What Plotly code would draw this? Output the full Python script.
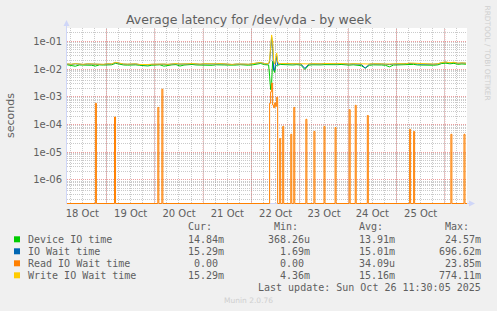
import pandas as pd
import plotly.graph_objects as go

# ---------------- data ----------------
X_START = "2025-10-18 04:24"
X_END = "2025-10-26 11:00"

day_label_times = ["2025-10-18 12:00", "2025-10-19 12:00", "2025-10-20 12:00", "2025-10-21 12:00",
                   "2025-10-22 12:00", "2025-10-23 12:00", "2025-10-24 12:00", "2025-10-25 12:00"]
day_labels = ["18 Oct", "19 Oct", "20 Oct", "21 Oct", "22 Oct", "23 Oct", "24 Oct", "25 Oct"]
midnights = ["2025-10-19", "2025-10-20", "2025-10-21", "2025-10-22",
             "2025-10-23", "2025-10-24", "2025-10-25", "2025-10-26"]

y_tick_vals = [1e-6, 1e-5, 1e-4, 1e-3, 1e-2, 1e-1]
y_tick_text = ["1e-06", "1e-05", "1e-04", "1e-03", "1e-02", "1e-01"]

# sample times: 2h steps, 30min detail around the 22 Oct burst, 2h steps
t1 = list(pd.date_range("2025-10-18 04:30", periods=50, freq="2h"))
t2 = list(pd.date_range("2025-10-22 08:30", periods=11, freq="30min"))
t3 = list(pd.date_range("2025-10-22 14:30", periods=47, freq="2h"))

# values in milliseconds
write_ms1 = [15.3, 14.9, 15.6, 15.1, 14.8, 15.4, 15.2, 15.7, 15.0, 14.8,
             15.5, 15.3, 17.4, 15.8, 15.2, 15.0, 15.6, 15.4, 14.6, 14.3,
             14.5, 14.9, 15.2, 15.6, 15.1, 14.8, 15.3, 15.7, 15.2, 14.9,
             15.4, 15.8, 15.3, 15.0, 15.5, 15.2, 14.9, 15.4, 15.7, 15.3,
             15.0, 14.7, 15.2, 15.6, 15.1, 14.9, 15.4, 15.8, 17.2, 15.6]
write_ms2 = [15.6, 22.0, 60.0, 170.0, 95.0, 20.0, 15.0, 26.0, 38.0, 19.0, 15.5]
write_ms3 = [15.8, 15.6, 15.9, 15.4, 15.7, 15.5, 14.8, 15.3, 15.6, 15.2,
             15.4, 15.8, 15.5, 15.1, 15.6, 15.9, 15.4, 15.2, 15.6, 15.3,
             15.0, 14.6, 15.2, 15.5, 15.8, 15.4, 15.1, 14.8, 15.3, 15.6,
             15.2, 15.5, 16.4, 16.1, 15.4, 15.2, 15.6, 15.3, 15.1, 15.5,
             17.2, 17.8, 16.9, 17.5, 16.2, 16.6, 16.3]

iowait_ms1 = [15.1, 14.7, 15.4, 14.9, 14.6, 15.2, 15.0, 15.5, 14.8, 14.6,
              15.3, 15.1, 17.1, 15.6, 15.0, 14.8, 15.4, 15.2, 14.4, 14.1,
              14.3, 14.7, 15.0, 15.4, 14.9, 14.6, 15.1, 15.5, 15.0, 14.7,
              15.2, 15.6, 15.1, 14.8, 15.3, 15.0, 14.7, 15.2, 15.5, 15.1,
              14.8, 14.5, 15.0, 15.4, 14.9, 14.7, 15.2, 15.6, 17.0, 15.4]
iowait_ms2 = [15.4, 18.0, 48.0, 140.0, 55.0, 9.0, 9.2, 20.0, 30.0, 14.0, 15.2]
iowait_ms3 = [15.6, 15.4, 15.7, 15.2, 15.5, 15.3, 10.5, 15.1, 15.4, 15.0,
              15.2, 15.6, 15.3, 14.9, 15.4, 15.7, 15.2, 15.0, 15.4, 15.1,
              14.8, 10.7, 15.0, 15.3, 15.6, 15.2, 14.9, 14.5, 15.1, 15.4,
              15.0, 15.3, 16.2, 15.9, 15.2, 15.0, 15.4, 15.1, 14.9, 15.3,
              17.0, 17.6, 16.7, 17.3, 16.0, 16.4, 16.1]

device_ms1 = [14.2, 13.8, 12.6, 14.0, 13.9, 14.3, 13.7, 12.8, 14.1, 13.9,
              14.4, 14.2, 16.0, 14.5, 14.0, 13.8, 14.3, 14.1, 13.6, 13.2,
              12.9, 13.7, 14.0, 14.2, 12.7, 13.8, 14.1, 14.4, 12.8, 13.9,
              14.3, 14.6, 14.0, 13.8, 14.2, 13.9, 13.6, 14.2, 14.5, 14.0,
              13.8, 13.5, 13.9, 14.3, 13.9, 13.7, 14.1, 14.6, 15.8, 14.4]
device_ms2 = [14.0, 5.5, 1.8, 3.2, 19.0, 11.0, 7.5, 12.5, 13.5, 13.0, 14.1]
device_ms3 = [14.6, 14.2, 14.5, 14.0, 14.4, 13.9, 9.6, 13.8, 14.2, 13.9,
              14.1, 14.4, 14.2, 13.7, 14.3, 14.6, 14.0, 13.8, 14.2, 13.9,
              13.2, 10.8, 13.6, 14.1, 14.4, 14.0, 13.6, 12.0, 13.9, 14.2,
              13.8, 14.1, 15.0, 14.7, 14.0, 13.8, 14.2, 13.9, 13.7, 14.1,
              15.8, 16.2, 15.4, 16.0, 14.8, 15.2, 14.9]

# read IO wait: zero except at these 30-minute samples
read_times = ["2025-10-18 18:30", "2025-10-19 04:00", "2025-10-20 01:30", "2025-10-20 03:30",
              "2025-10-22 09:00", "2025-10-22 09:30", "2025-10-22 10:00", "2025-10-22 10:30",
              "2025-10-22 11:00", "2025-10-22 11:30", "2025-10-22 12:00", "2025-10-22 12:30",
              "2025-10-22 14:00", "2025-10-22 15:30", "2025-10-22 19:30", "2025-10-22 21:00",
              "2025-10-23 03:00", "2025-10-23 07:00", "2025-10-23 12:00", "2025-10-23 17:30",
              "2025-10-24 00:30", "2025-10-24 03:30", "2025-10-24 09:30", "2025-10-25 06:30",
              "2025-10-25 08:30", "2025-10-26 03:00", "2025-10-26 09:30"]
read_ms = [0.58, 0.185, 0.41, 1.87,
           0.58, 1.5, 3.1, 0.5,
           0.4, 0.6, 0.45, 0.96,
           0.031, 0.085, 0.044, 0.41,
           0.153, 0.056, 0.085, 0.077,
           0.34, 0.49, 0.21, 0.066,
           0.056, 0.044, 0.044]

series_names = ["Device IO time", "IO Wait time", "Read IO Wait time", "Write IO Wait time"]
series_colors = ["#00CC00", "#0066B3", "#FF8000", "#FFCC00"]
legend_cur = ["14.84m", "15.29m", "0.00\u00a0", "15.29m"]
legend_min = ["368.26u", "1.69m", "0.00\u00a0", "4.36m"]
legend_avg = ["13.91m", "15.01m", "34.09u", "15.16m"]
legend_max = ["24.57m", "696.62m", "23.85m", "774.11m"]

TITLE = "Average latency for /dev/vda - by week"
Y_TITLE = "seconds"
LAST_UPDATE = "Last update: Sun Oct 26 11:30:05 2025"
MUNIN = "Munin 2.0.76"
WATERMARK = "RRDTOOL / TOBI OETIKER"

# ---------------- layout constants ----------------
W, H = 497, 311
ML, MR, MT, MB = 67, 30, 28, 107
PW, PH = W - ML - MR, H - MT - MB
Y_LO, Y_HI = -6.876, -0.5186   # log10 range
SANS = "DejaVu Sans"
MONO = "DejaVu Sans Mono"
FONT_C = "#5f5f5f"
AXIS_C = "#CFD6F8"
GRID_C = "rgba(150,150,150,0.5)"
MGRID_C = "rgba(222,79,79,0.55)"


def px(x):
    return (x - ML) / PW


def py(y):
    return (MT + PH - y) / PH


def ms(vals):
    return [v / 1000.0 for v in vals]


floor = 10 ** (Y_LO + 0.018)

fig = go.Figure()

t_all = t1 + t2 + t3
fig.add_trace(go.Scatter(x=t_all, y=ms(device_ms1 + device_ms2 + device_ms3), mode="lines",
                         line=dict(color=series_colors[0], width=1), name=series_names[0]))
fig.add_trace(go.Scatter(x=t_all, y=ms(iowait_ms1 + iowait_ms2 + iowait_ms3), mode="lines",
                         line=dict(color=series_colors[1], width=1), name=series_names[1]))

# read series as 30-minute steps with zero (clamped to the floor) elsewhere
rx, ry = [pd.Timestamp(X_START)], [floor]
step = pd.Timedelta("30min")
rts = [pd.Timestamp(t) for t in read_times]
for i, (t, v) in enumerate(zip(rts, read_ms)):
    rx.append(t)
    ry.append(v / 1000.0)
    if i + 1 >= len(rts) or rts[i + 1] != t + step:
        rx.append(t + step)
        ry.append(floor)
rx.append(pd.Timestamp(X_END))
ry.append(floor)
fig.add_trace(go.Scatter(x=rx, y=ry, mode="lines", line=dict(color=series_colors[2], width=1, shape="hv"),
                         name=series_names[2]))

fig.add_trace(go.Scatter(x=t_all, y=ms(write_ms1 + write_ms2 + write_ms3), mode="lines",
                         line=dict(color=series_colors[3], width=1), name=series_names[3]))

shapes = []
# major vertical grid at midnights
for m in midnights:
    shapes.append(dict(type="line", xref="x", yref="paper", x0=m, x1=m, y0=0, y1=1,
                       line=dict(color=MGRID_C, width=1, dash="1px,1px"), layer="below"))
# axes with arrows
shapes.append(dict(type="line", xref="paper", yref="paper", x0=px(66.5), x1=px(66.5), y0=py(204), y1=py(25),
                   line=dict(color=AXIS_C, width=1), layer="above"))
shapes.append(dict(type="path", xref="paper", yref="paper",
                   path=f"M {px(63.5)} {py(26)} L {px(66.5)} {py(20)} L {px(69.5)} {py(26)} Z",
                   fillcolor=AXIS_C, line=dict(width=0), layer="above"))
shapes.append(dict(type="line", xref="paper", yref="paper", x0=px(67), x1=px(470), y0=py(203.5), y1=py(203.5),
                   line=dict(color=AXIS_C, width=1), layer="below"))
shapes.append(dict(type="path", xref="paper", yref="paper",
                   path=f"M {px(469)} {py(200.5)} L {px(475)} {py(203.5)} L {px(469)} {py(206.5)} Z",
                   fillcolor=AXIS_C, line=dict(width=0), layer="above"))

annotations = []
annotations.append(dict(text=TITLE, x=px(248.5), y=py(19.5), xref="paper", yref="paper",
                        showarrow=False, xanchor="center", yanchor="middle",
                        font=dict(family=SANS, size=12.5, color=FONT_C)))
annotations.append(dict(text=Y_TITLE, x=px(11), y=py(115), xref="paper", yref="paper",
                        showarrow=False, xanchor="center", yanchor="middle", textangle=-90,
                        font=dict(family=SANS, size=11, color=FONT_C)))
annotations.append(dict(text=WATERMARK, x=px(487), y=py(52.5), xref="paper", yref="paper",
                        showarrow=False, xanchor="center", yanchor="middle", textangle=90,
                        font=dict(family=SANS, size=7.4, color="#cfcfcf")))
annotations.append(dict(text=MUNIN, x=px(248), y=py(300), xref="paper", yref="paper",
                        showarrow=False, xanchor="center", yanchor="middle",
                        font=dict(family=SANS, size=7.5, color="#cfcfcf")))

mono = dict(family=MONO, size=10, color=FONT_C)
col_ends = [225.7, 311.7, 396.7, 482.7]
for hdr, xe in zip(["Cur:", "Min:", "Avg:", "Max:"], col_ends):
    annotations.append(dict(text=hdr + "\u00a0\u00a0", x=px(xe), y=py(226.7), xref="paper", yref="paper",
                            showarrow=False, xanchor="right", yanchor="middle", font=mono))
row_y = [239.3, 251.3, 263.3, 275.3]
for i in range(4):
    yy = row_y[i]
    shapes.append(dict(type="rect", xref="paper", yref="paper", x0=px(14), x1=px(20),
                       y0=py(yy - 3), y1=py(yy + 3), fillcolor=series_colors[i], line=dict(width=0)))
    annotations.append(dict(text=series_names[i], x=px(26), y=py(yy), xref="paper", yref="paper",
                            showarrow=False, xanchor="left", yanchor="middle", font=mono))
    for vals, xe in zip([legend_cur, legend_min, legend_avg, legend_max], col_ends):
        annotations.append(dict(text=vals[i], x=px(xe), y=py(yy), xref="paper", yref="paper",
                                showarrow=False, xanchor="right", yanchor="middle", font=mono))
annotations.append(dict(text=LAST_UPDATE, x=px(482.7), y=py(287.3), xref="paper", yref="paper",
                        showarrow=False, xanchor="right", yanchor="middle", font=mono))

minor_y = [k * 10.0 ** n for n in range(-7, 0) for k in range(2, 10)]

fig.update_layout(
    width=W, height=H,
    margin=dict(l=ML, r=MR, t=MT, b=MB, pad=0),
    paper_bgcolor="#F0F0F0", plot_bgcolor="#FFFFFF",
    showlegend=False,
    shapes=shapes, annotations=annotations,
    xaxis=dict(type="date", range=[X_START, X_END], tickmode="array",
               tickvals=day_label_times, ticktext=day_labels, showgrid=False, zeroline=False,
               showline=False, ticks="", ticklabelstandoff=2,
               tickfont=dict(family=SANS, size=10, color=FONT_C),
               minor=dict(dtick=6 * 3600 * 1000, tick0="2025-10-18 00:00", showgrid=True,
                          gridcolor=GRID_C, griddash="1px,1px", gridwidth=1, ticks="")),
    yaxis=dict(type="log", range=[Y_LO, Y_HI], tickmode="array", tickvals=y_tick_vals,
               ticktext=y_tick_text, showgrid=True, gridcolor=MGRID_C, griddash="1px,1px",
               gridwidth=1, zeroline=False, showline=False, ticks="", ticklabelstandoff=4,
               tickfont=dict(family=SANS, size=10, color=FONT_C),
               minor=dict(tickmode="array", tickvals=minor_y, showgrid=True, gridcolor=GRID_C,
                          griddash="1px,1px", gridwidth=1, ticks="")),
)

fig.write_html("out.html")
